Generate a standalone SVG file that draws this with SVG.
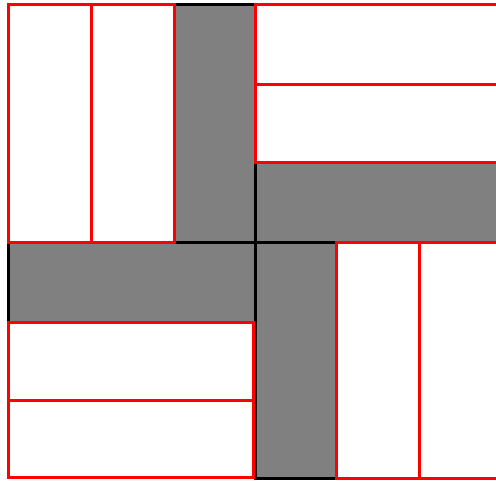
<svg xmlns="http://www.w3.org/2000/svg" width="496" height="482" viewBox="0 0 496 482">
<style>
.g{fill:#808080;stroke:#000;stroke-width:3}
.w{fill:#fff;stroke:#f00;stroke-width:3}
</style>
<rect width="496" height="482" fill="#fff"/>
<g id="bars">
<rect id="g1" class="g" x="174.5" y="4.5" width="81" height="238"/>
<rect id="g2" class="g" x="255.5" y="162.5" width="250" height="80"/>
<rect id="g3" class="g" x="8.5" y="242.5" width="247" height="80"/>
<rect id="g4" class="g" x="255.5" y="242.5" width="81" height="236"/>
</g>
<g id="tiles">
<rect id="tl1" class="w" x="8.5" y="4.5" width="83" height="238"/>
<rect id="tl2" class="w" x="91.5" y="4.5" width="83" height="238"/>
<rect id="tr1" class="w" x="255.5" y="4.5" width="250" height="80"/>
<rect id="tr2" class="w" x="255.5" y="84.5" width="250" height="78"/>
<rect id="bl1" class="w" x="8.5" y="322.5" width="245" height="78"/>
<rect id="bl2" class="w" x="8.5" y="400.5" width="245" height="77"/>
<rect id="br1" class="w" x="336.5" y="242.5" width="83" height="236"/>
<rect id="br2" class="w" x="419.5" y="242.5" width="90" height="236"/>
</g>
</svg>
